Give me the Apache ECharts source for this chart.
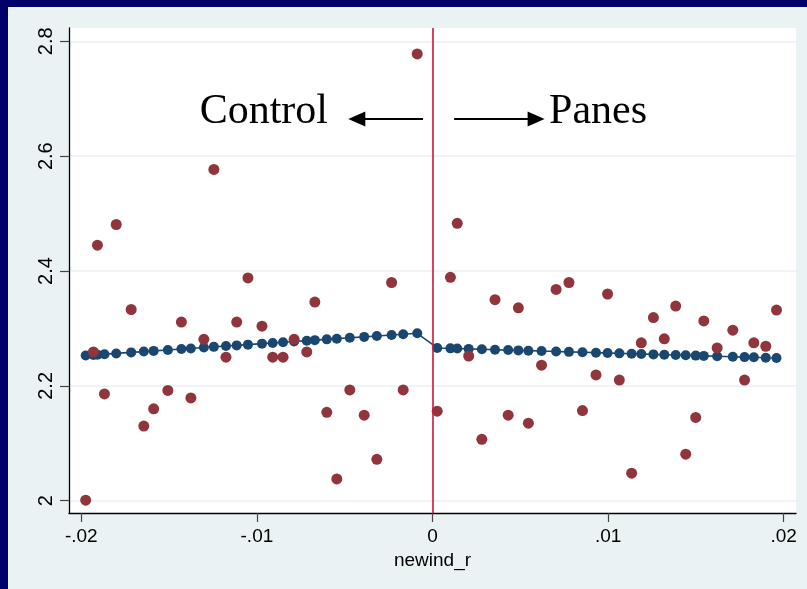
<!DOCTYPE html>
<html><head><meta charset="utf-8">
<script src="https://cdn.jsdelivr.net/npm/echarts@6.0.0/dist/echarts.min.js"></script>
<style>
html,body{margin:0;padding:0;background:#eaf2f3;}
#c{position:absolute;left:0;top:0;width:807px;height:589px;}
.bt{position:absolute;left:0;top:0;width:807px;height:7px;background:#00006a;}
.bl{position:absolute;left:0;top:0;width:8px;height:589px;background:#00006a;}
</style></head>
<body><div id="c"></div><div class="bt"></div><div class="bl"></div>
<script>
// ---- data ----
const xTickValues = [-0.02, -0.01, 0, 0.01, 0.02];
const xTickLabels = ['-.02', '-.01', '0', '.01', '.02'];
const yTickValues = [2, 2.2, 2.4, 2.6, 2.8];
const yTickLabels = ['2', '2.2', '2.4', '2.6', '2.8'];
const xName = 'newind_r';

const binX = [
  -0.01975, -0.01931, -0.01908, -0.01868, -0.01801, -0.01716, -0.01644, -0.01588, -0.01507, -0.01430,
  -0.01376, -0.01302, -0.01245, -0.01176, -0.01115, -0.01051, -0.00971, -0.00910, -0.00851, -0.00788,
  -0.00716, -0.00670, -0.00602, -0.00545, -0.00471, -0.00389, -0.00317, -0.00233, -0.00167, -0.00087,
  0.00027, 0.00102, 0.00141, 0.00206, 0.00281, 0.00356, 0.00431, 0.00489, 0.00546, 0.00621,
  0.00704, 0.00777, 0.00854, 0.00931, 0.00997, 0.01064, 0.01134, 0.01189, 0.01258, 0.01320,
  0.01385, 0.01442, 0.01499, 0.01545, 0.01621, 0.01710, 0.01777, 0.01830, 0.01898, 0.01959
];
const meanY = [
  2.001, 2.259, 2.445, 2.186, 2.481, 2.333, 2.130, 2.160, 2.192, 2.311,
  2.179, 2.281, 2.577, 2.250, 2.311, 2.388, 2.304, 2.250, 2.250, 2.281,
  2.259, 2.346, 2.154, 2.038, 2.193, 2.149, 2.072, 2.380, 2.193, 2.778,
  2.156, 2.389, 2.483, 2.252, 2.107, 2.350, 2.149, 2.336, 2.135, 2.236,
  2.368, 2.380, 2.157, 2.219, 2.360, 2.210, 2.048, 2.275, 2.319, 2.282,
  2.339, 2.081, 2.145, 2.313, 2.266, 2.297, 2.210, 2.275, 2.269, 2.332
];
const fitY = [
  2.2530, 2.2539, 2.2544, 2.2552, 2.2565, 2.2583, 2.2597, 2.2609, 2.2625, 2.2641,
  2.2652, 2.2667, 2.2679, 2.2693, 2.2705, 2.2718, 2.2735, 2.2747, 2.2759, 2.2772,
  2.2787, 2.2796, 2.2810, 2.2822, 2.2837, 2.2853, 2.2868, 2.2885, 2.2899, 2.2915,
  2.2660, 2.2653, 2.2650, 2.2644, 2.2637, 2.2630, 2.2623, 2.2618, 2.2613, 2.2606,
  2.2599, 2.2592, 2.2585, 2.2578, 2.2572, 2.2566, 2.2560, 2.2555, 2.2548, 2.2543,
  2.2537, 2.2532, 2.2527, 2.2522, 2.2516, 2.2508, 2.2501, 2.2497, 2.2490, 2.2485
];
const cutoff = 0;
const annotTexts = ['Control', 'Panes'];
const annotPos = [[-0.01326, 2.677], [0.00664, 2.677]];
const arrowFrom = [[-0.00054, 2.6647], [0.00123, 2.6647]];
const arrowTo = [[-0.00431, 2.6647], [0.00590, 2.6647]];

// ---- chart ----
const chart = echarts.init(document.getElementById('c'), null, {renderer: 'canvas'});
function lab(values, labels) {
  return function (v) {
    let best = 0;
    for (let i = 1; i < values.length; i++) if (Math.abs(values[i] - v) < Math.abs(values[best] - v)) best = i;
    return labels[best];
  };
}
const SANS = '"Liberation Sans", Arial, sans-serif';
const option = {
  animation: false,
  backgroundColor: '#eaf2f3',
  grid: {left: 69, right: 11, top: 28, bottom: 76, show: true, backgroundColor: '#ffffff', borderWidth: 0},
  xAxis: {
    type: 'value', min: -0.0207, max: 0.0207,
    name: xName, nameLocation: 'middle', nameGap: 33,
    nameTextStyle: {fontSize: 19, color: '#000', fontFamily: SANS},
    axisLine: {show: true, onZero: false, lineStyle: {color: '#000', width: 1.3}},
    axisTick: {show: true, length: 9, customValues: xTickValues, lineStyle: {color: '#444', width: 1.2}},
    axisLabel: {customValues: xTickValues, formatter: lab(xTickValues, xTickLabels), fontSize: 19, color: '#000', fontFamily: SANS, margin: 14},
    splitLine: {show: false}
  },
  yAxis: {
    type: 'value', min: 1.9786, max: 2.8232,
    axisLine: {show: true, onZero: false, lineStyle: {color: '#000', width: 1.3}},
    axisTick: {show: true, length: 9, customValues: yTickValues, lineStyle: {color: '#444', width: 1.2}},
    axisLabel: {customValues: yTickValues, formatter: lab(yTickValues, yTickLabels), rotate: 90, fontSize: 20, color: '#000', fontFamily: SANS, margin: 13},
    splitLine: {show: true, lineStyle: {color: '#eaf2f3', width: 1.5}}
  },
  series: [
    {
      type: 'scatter', data: [], z: 1, silent: true,
      markLine: {
        silent: true, symbol: 'none', animation: false,
        label: {show: false},
        lineStyle: {color: '#d0143c', width: 1.6, type: 'solid'},
        emphasis: {disabled: true},
        data: [{xAxis: cutoff}]
      }
    },
    {
      type: 'line', z: 2, silent: true,
      data: binX.map((x, i) => [x, fitY[i]]),
      symbol: 'circle', symbolSize: 10, showAllSymbol: true,
      itemStyle: {color: '#1a476f'},
      lineStyle: {color: '#1a476f', width: 1.6}
    },
    {
      type: 'scatter', z: 3, silent: true,
      data: binX.map((x, i) => [x, meanY[i]]),
      symbol: 'circle', symbolSize: 11,
      itemStyle: {color: '#90353b', opacity: 1}
    },
    {
      type: 'scatter', data: [], z: 4, silent: true,
      markLine: {
        silent: true, animation: false,
        symbol: ['none', 'triangle'], symbolSize: 16,
        label: {show: false},
        lineStyle: {color: '#000', width: 2, type: 'solid'},
        itemStyle: {color: '#000'},
        emphasis: {disabled: true},
        data: arrowFrom.map((p, i) => [
          {coord: p, symbol: 'none'},
          {coord: arrowTo[i], symbol: 'triangle', symbolSize: [15, 17]}
        ])
      }
    }
  ]
};
chart.setOption(option);
const graphics = annotTexts.map((t, i) => {
  const p = chart.convertToPixel({gridIndex: 0}, annotPos[i]);
  return {
    type: 'text', x: p[0], y: p[1], z: 10, silent: true,
    style: {text: t, font: '42px "Liberation Serif", "Times New Roman", serif', fill: '#000', align: 'left', verticalAlign: 'middle'}
  };
});
chart.setOption({graphic: graphics});
</script>
</body></html>
